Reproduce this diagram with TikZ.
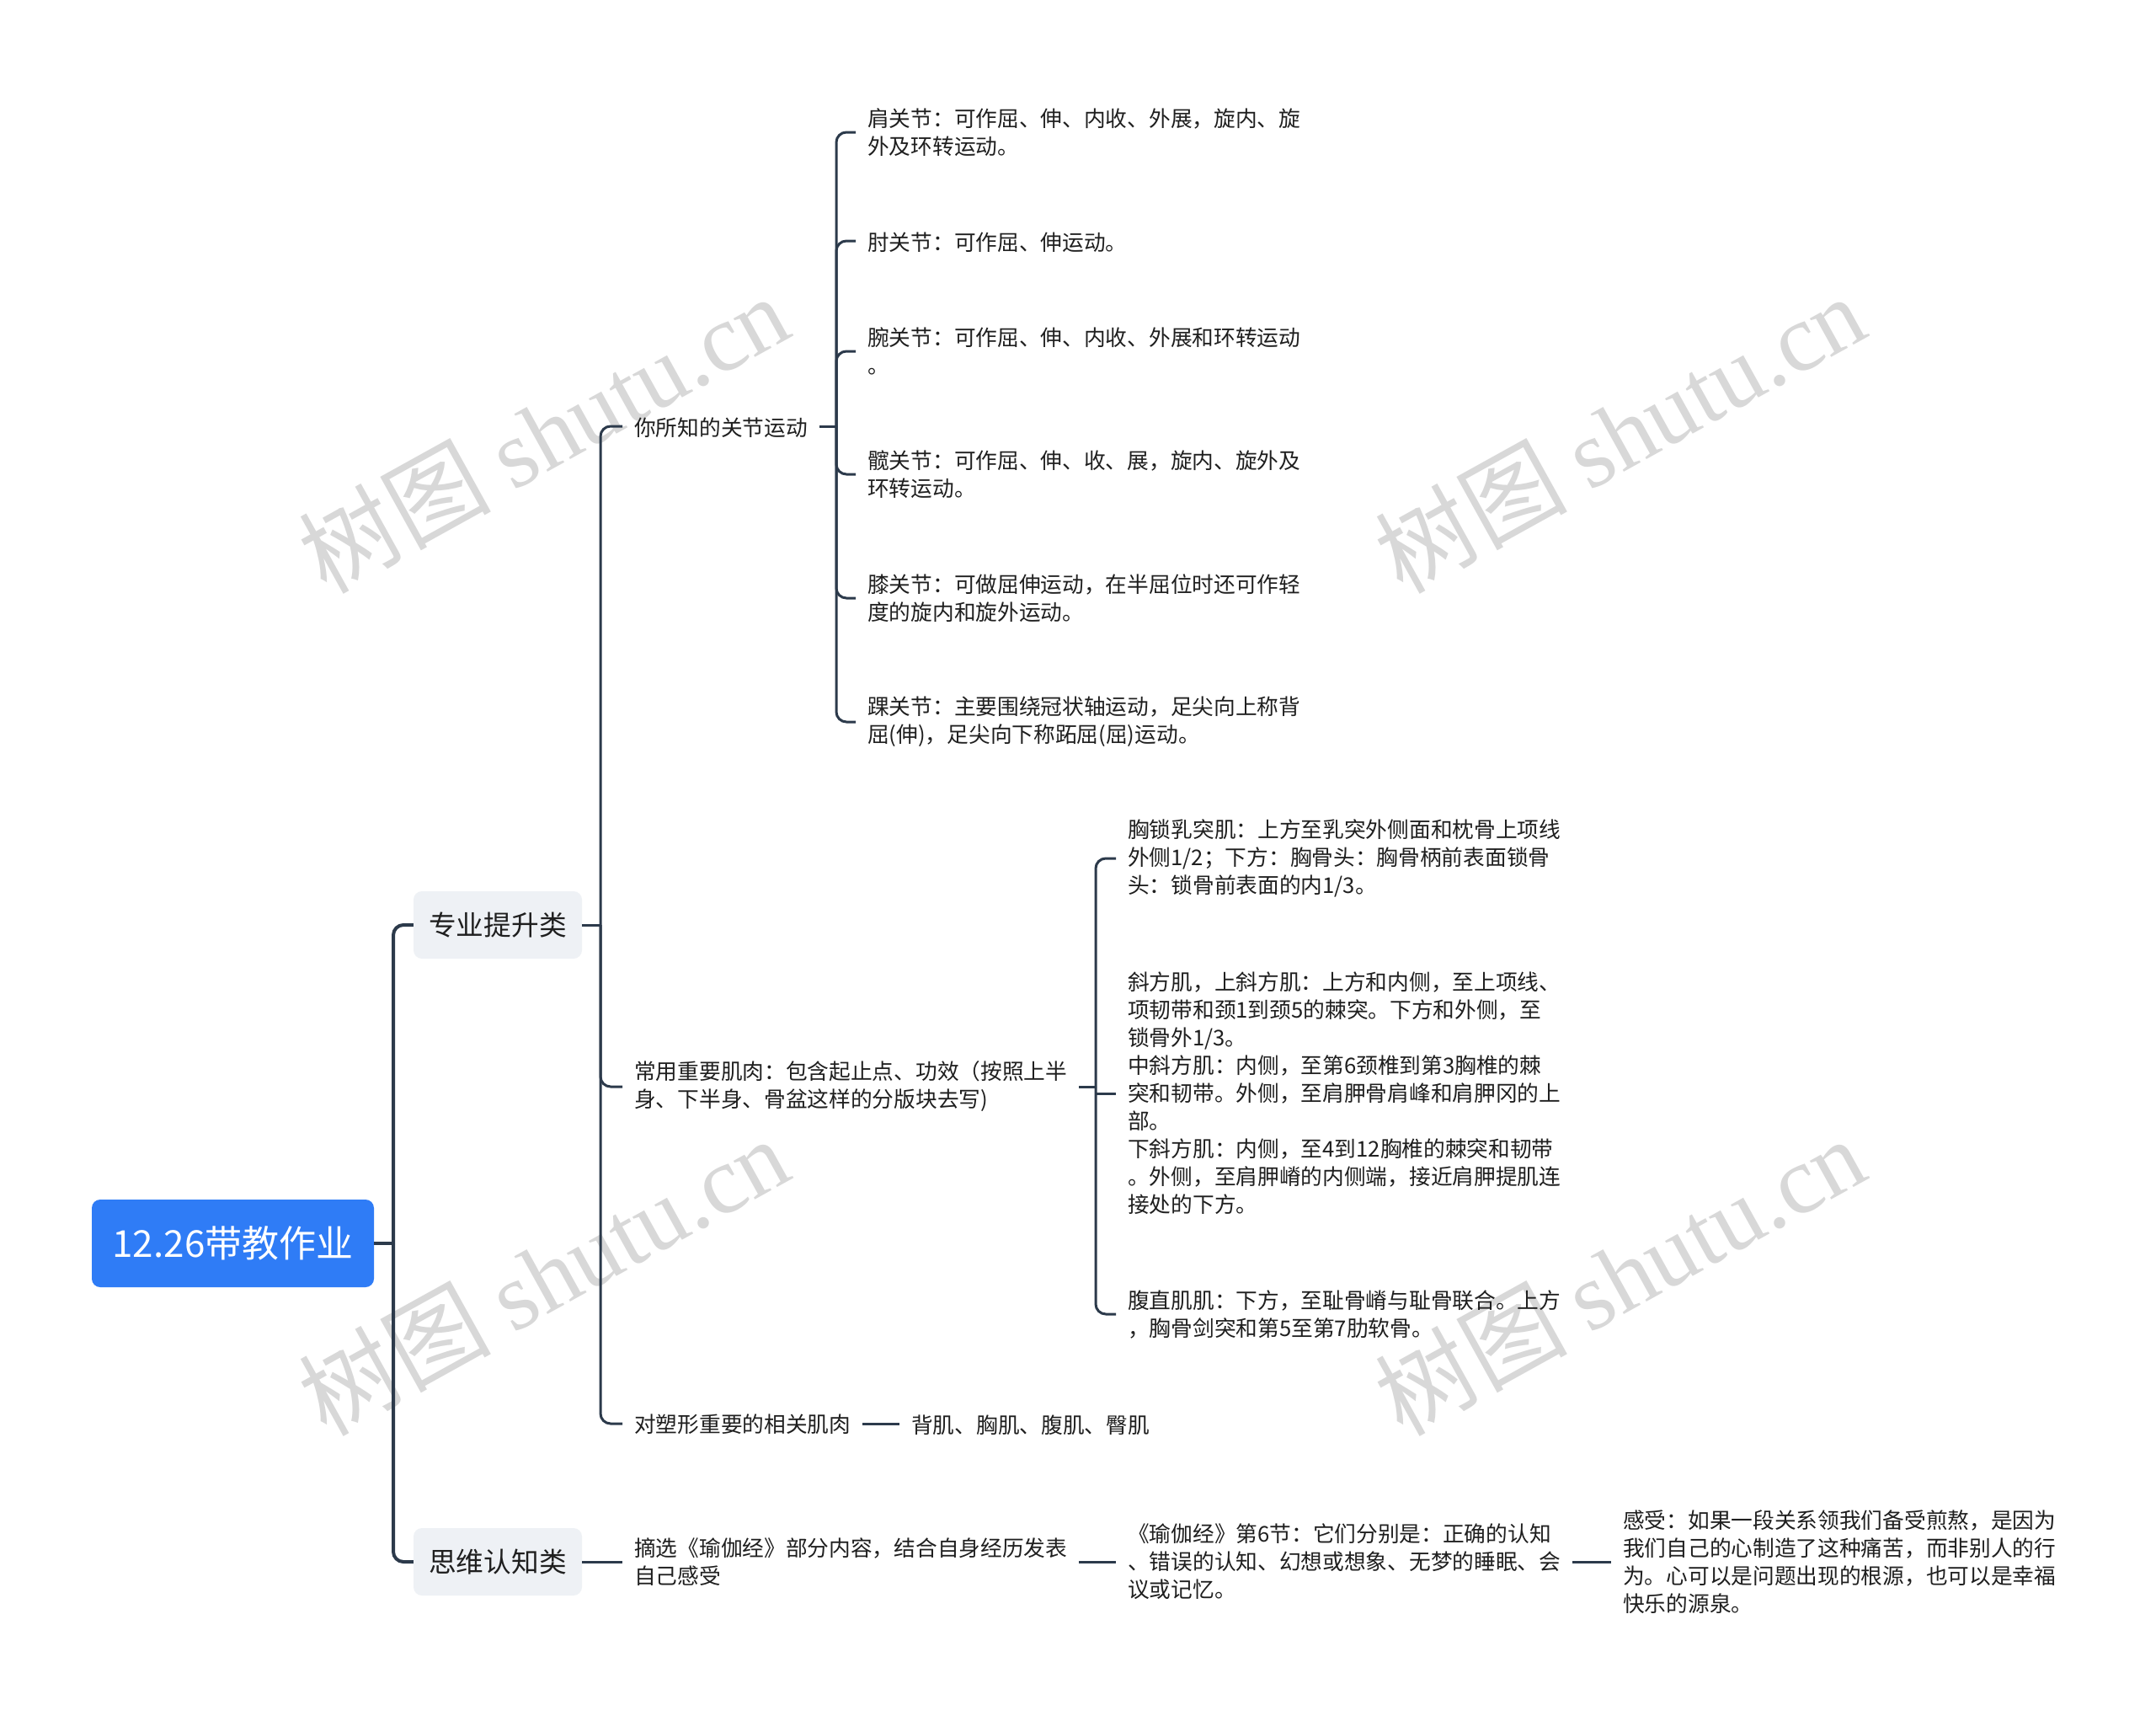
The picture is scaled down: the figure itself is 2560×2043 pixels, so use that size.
\documentclass[tikz,border=0pt]{standalone}
\usepackage{fontspec}
\setmainfont{Noto Sans CJK SC}
\newfontfamily\wmfont{Liberation Serif}
\definecolor{lc}{HTML}{2C3A4B}
\definecolor{rootblue}{HTML}{2F7CF6}
\definecolor{lonefill}{HTML}{EEF1F5}
\definecolor{wm}{HTML}{D8D8D8}
\definecolor{txt}{HTML}{1F1F1F}
\newcommand\mst{\rule[-0.06em]{0pt}{1em}}
\begin{document}
\begin{tikzpicture}[x=1pt,y=-1pt,
  leaf/.style={anchor=west, inner xsep=14pt, inner ysep=0pt, align=left, text=txt,
    font=\fontsize{25.7pt}{33pt}\selectfont, execute at begin node=\mst, execute at end node=\mst},
  lone/.style={draw=lc, line width=4pt, rounded corners=12pt},
  ltwo/.style={draw=lc, line width=3pt, rounded corners=12pt},
  lvlone/.style={fill=lonefill, rounded corners=10pt, minimum width=200pt, minimum height=80pt,
    font=\fontsize{32.7pt}{40pt}\selectfont, text=txt, inner sep=0pt},
  wmk/.style={text=wm, rotate=29, font=\fontsize{114pt}{120pt}\selectfont, inner sep=0pt}]
\fill[white] (0,0) rectangle (2560,2043);
\path[use as bounding box] (0,0) rectangle (2560,2043);

% watermarks
\node[wmk] (wa) at (645,514) {树图 {\wmfont shutu.cn}};
\node[wmk] (wb) at (1923,514) {树图 {\wmfont shutu.cn}};
\node[wmk] (wc) at (645,1514) {树图 {\wmfont shutu.cn}};
\node[wmk] (wd) at (1923,1514) {树图 {\wmfont shutu.cn}};

% root and level 1
\node[fill=rootblue, rounded corners=10pt, minimum width=335pt, minimum height=104pt, text=white,
  font=\fontsize{44pt}{50pt}\selectfont, inner sep=0pt] (root) at (276.5,1476) {12.26带教作业};
\node[lvlone] (zy) at (591,1098) {专业提升类};
\node[lvlone] (sw) at (591,1854) {思维认知类};
\coordinate (t1) at (467,1476);
\draw[lone] (root.east) -- (t1);
\draw[lone] (t1) |- (zy.west);
\draw[lone] (t1) |- (sw.west);

% level 2 under zy
\node[leaf] (n1) at (739,506) {你所知的关节运动};
\node[leaf] (n2) at (739,1290) {常用重要肌肉：包含起止点、功效（按照上半\\身、下半身、骨盆这样的分版块去写)};
\node[leaf] (n3) at (739,1690) {对塑形重要的相关肌肉};
\coordinate (t2) at (713,1098);
\draw[ltwo] (zy.east) -- (t2);
\draw[ltwo] (t2) |- (n1.west);
\draw[ltwo] (t2) |- (n2.west);
\draw[ltwo] (t2) |- (n3.west);

% joints
\node[leaf] (j1) at (1016,157) {肩关节：可作屈、伸、内收、外展，旋内、旋\\外及环转运动。};
\node[leaf] (j2) at (1016,286) {肘关节：可作屈、伸运动。};
\node[leaf] (j3) at (1016,417) {腕关节：可作屈、伸、内收、外展和环转运动\\。};
\node[leaf] (j4) at (1016,563) {髋关节：可作屈、伸、收、展，旋内、旋外及\\环转运动。};
\node[leaf] (j5) at (1016,710) {膝关节：可做屈伸运动，在半屈位时还可作轻\\度的旋内和旋外运动。};
\node[leaf] (j6) at (1016,857) {踝关节：主要围绕冠状轴运动，足尖向上称背\\屈(伸)，足尖向下称跖屈(屈)运动。};
\coordinate (t3) at (993,506);
\draw[ltwo] (n1.east) -- (t3);
\foreach \j in {j1,j2,j3,j4,j5,j6} { \draw[ltwo] (t3) |- (\j.west); }

% muscles
\node[leaf] (m1) at (1325,1019) {胸锁乳突肌：上方至乳突外侧面和枕骨上项线\\外侧1/2；下方：胸骨头：胸骨柄前表面锁骨\\头：锁骨前表面的内1/3。};
\node[leaf] (m2) at (1325,1298) {斜方肌，上斜方肌：上方和内侧，至上项线、\\项韧带和颈1到颈5的棘突。下方和外侧，至\\锁骨外1/3。\\中斜方肌：内侧，至第6颈椎到第3胸椎的棘\\突和韧带。外侧，至肩胛骨肩峰和肩胛冈的上\\部。\\下斜方肌：内侧，至4到12胸椎的棘突和韧带\\。外侧，至肩胛嵴的内侧端，接近肩胛提肌连\\接处的下方。};
\node[leaf] (m3) at (1325,1560) {腹直肌肌：下方，至耻骨嵴与耻骨联合。上方\\，胸骨剑突和第5至第7肋软骨。};
\coordinate (t4) at (1301,1290);
\coordinate (t4b) at (1301,1298);
\draw[ltwo] (n2.east) -- (t4);
\draw[ltwo] (t4) |- (m1.west);
\draw[ltwo] (t4) |- (m3.west);
\draw[ltwo] (t4b) -- (m2.west);

% shaping muscles
\node[leaf] (b1) at (1068,1690) {背肌、胸肌、腹肌、臀肌};
\draw[ltwo] (n3.east) -- (b1.west);

% thinking branch
\node[leaf] (k1) at (739,1854) {摘选《瑜伽经》部分内容，结合自身经历发表\\自己感受};
\node[leaf] (k2) at (1325,1854) {《瑜伽经》第6节：它们分别是：正确的认知\\、错误的认知、幻想或想象、无梦的睡眠、会\\议或记忆。};
\node[leaf] (k3) at (1913,1854) {感受：如果一段关系领我们备受煎熬，是因为\\我们自己的心制造了这种痛苦，而非别人的行\\为。心可以是问题出现的根源，也可以是幸福\\快乐的源泉。};
\draw[ltwo] (sw.east) -- (k1.west);
\draw[ltwo] (k1.east) -- (k2.west);
\draw[ltwo] (k2.east) -- (k3.west);
\end{tikzpicture}
\end{document}
